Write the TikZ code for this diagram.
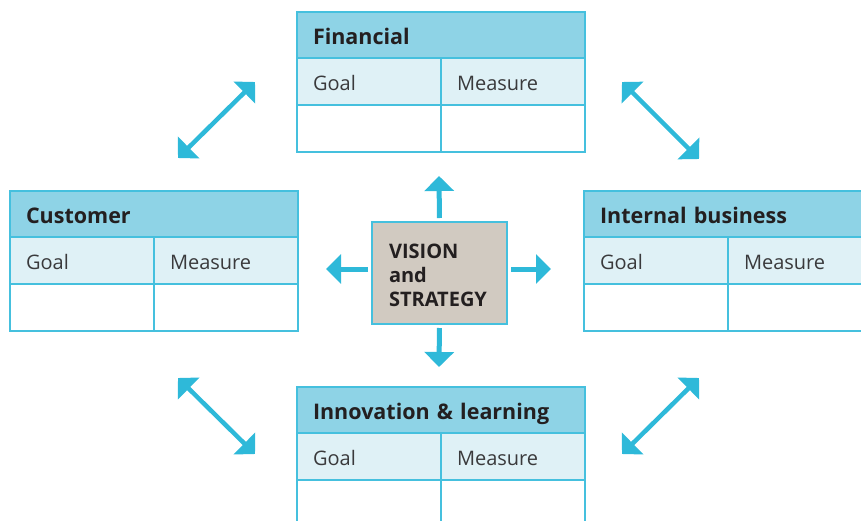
\documentclass[tikz,border=0pt]{standalone}
\usepackage{fontspec}
\setmainfont{Open Sans}
\usetikzlibrary{arrows.meta}

\definecolor{bscline}{HTML}{45C0DE}
\definecolor{bschead}{HTML}{8ED3E6}
\definecolor{bscrow}{HTML}{DFF1F6}
\definecolor{bscarrow}{HTML}{2EB9D9}
\definecolor{bsccore}{HTML}{D1CAC1}
\definecolor{bsctext}{HTML}{231F20}
\definecolor{bsclight}{HTML}{3A3A3C}

\tikzset{
  x=1pt, y=-1pt,
  cardcell/.style={draw=bscline, line width=1.2pt, outer sep=0pt,
    inner ysep=0pt, inner xsep=16pt, align=left, anchor=north west},
  headcell/.style={cardcell, fill=bschead, text width=256pt, minimum height=46pt,
    text height=19pt, text depth=0pt,
    font=\fontsize{21.5}{24}\selectfont\bfseries, text=bsctext},
  rowcell/.style={cardcell, fill=bscrow, text width=112pt, minimum height=47pt,
    text height=18pt, text depth=0pt,
    font=\fontsize{20}{23}\selectfont, text=bsclight},
  blankcell/.style={cardcell, fill=white, text width=112pt, minimum height=47pt},
  corebox/.style={draw=bscline, line width=1.2pt, fill=bsccore, outer sep=0pt,
    minimum width=135pt, minimum height=102pt},
  corelabel/.style={inner sep=0pt, text width=101pt, align=left, text=bsctext,
    font=\fontsize{20}{24}\selectfont\bfseries},
  radial/.style={draw=bscarrow, line width=5pt,
    -{Triangle[width=29pt, length=15pt]}, shorten <=4pt},
  linkarrow/.style={draw=bscarrow, line width=4.5pt,
    {Triangle[width=30pt, length=15pt]}-{Triangle[width=30pt, length=15pt]}},
}

% One perspective card: title bar, Goal/Measure row and an empty row
\newcommand\bsccard[4]{%
  \node[headcell] (#1-head) at (#2,#3) {#4};
  \node[rowcell] (#1-goal) at (#1-head.south west) {Goal};
  \node[rowcell] (#1-measure) at (#1-goal.north east) {Measure};
  \node[blankcell] (#1-blankl) at (#1-goal.south west) {};
  \node[blankcell] (#1-blankr) at (#1-blankl.north east) {};
}

\begin{document}
\begin{tikzpicture}
  \useasboundingbox (0,0) rectangle (861,520);

  \bsccard{fin}{297}{12}{Financial}
  \bsccard{cus}{10}{191}{Customer}
  \bsccard{int}{584}{191}{Internal business}
  \bsccard{inn}{297}{387}{Innovation \& learning}

  % central box with its four outward arrows
  \node[corebox] (core) at (439.5,273) {};
  \node[corelabel] (core-text) at ([yshift=-2pt]core.center) {VISION\\and\\STRATEGY};

  \coordinate (up-tip) at (439,176);
  \coordinate (down-tip) at (439,367);
  \coordinate (left-tip) at (326,269);
  \coordinate (right-tip) at (551,269);

  \draw[radial] (core.north) -- (up-tip);
  \draw[radial] (core.south) -- (down-tip);
  \draw[radial] (core.west |- left-tip) -- (left-tip);
  \draw[radial] (core.east |- right-tip) -- (right-tip);

  % diagonal links between neighbouring cards
  \coordinate (nw-a) at (178,158);
  \coordinate (nw-b) at (255,82);
  \coordinate (ne-a) at (622,82);
  \coordinate (ne-b) at (699,159);
  \coordinate (sw-a) at (178,378);
  \coordinate (sw-b) at (255,454);
  \coordinate (se-a) at (622,454);
  \coordinate (se-b) at (699,378);

  \draw[linkarrow] (nw-a) -- (nw-b);
  \draw[linkarrow] (ne-a) -- (ne-b);
  \draw[linkarrow] (sw-a) -- (sw-b);
  \draw[linkarrow] (se-a) -- (se-b);
\end{tikzpicture}
\end{document}
